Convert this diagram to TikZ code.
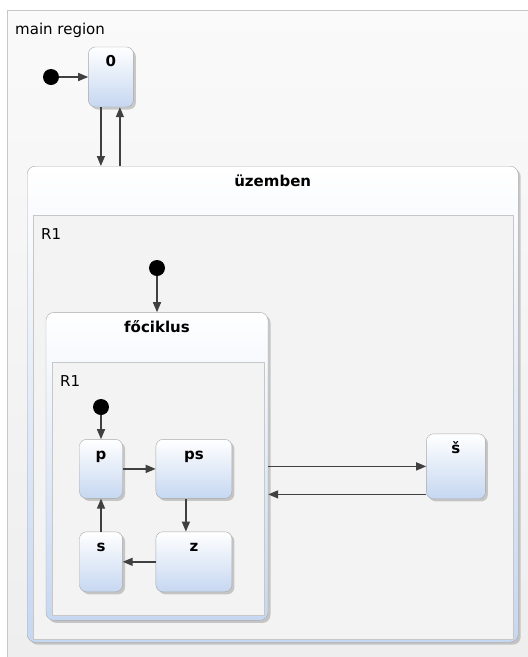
\documentclass[tikz,border=0pt]{standalone}
\usepackage{fontspec}
\setmainfont[Scale=1.5]{DejaVu Sans}
\usepackage{tikz}
\usetikzlibrary{positioning, arrows.meta, shadows}
\definecolor{stateblue}{HTML}{C6D7F1}
\definecolor{edgegray}{HTML}{A8A8A8}
\definecolor{linkgray}{HTML}{404040}
\definecolor{regionfill}{HTML}{F3F3F3}
\tikzset{
    simple/.style={rectangle, draw=edgegray, rounded corners=7pt, top color=white, bottom color=stateblue, inner sep=0pt, drop shadow={shadow xshift=2.5pt, shadow yshift=-2.5pt, fill=black!40}},
    composite/.style={rectangle, draw=edgegray, rounded corners=8pt, top color=white, bottom color=stateblue, inner sep=0pt, anchor=north west, drop shadow={shadow xshift=2.5pt, shadow yshift=-2.5pt, fill=black!40}},
    region/.style={rectangle, draw=black!22, fill=regionfill, inner sep=0pt, anchor=north west},
    init/.style={circle, fill=black, minimum size=16pt, inner sep=0pt},
    title/.style={anchor=base, yshift=-20pt, font=\bfseries},
    rlabel/.style={anchor=base west, inner sep=0pt, xshift=8pt, yshift=-24pt},
    arrow/.style={-{Triangle[length=10pt, width=8pt]}, draw=linkgray, line width=1.4pt}
}
\begin{document}
\begin{tikzpicture}[x=1pt, y=1pt]
        \useasboundingbox (0,0) rectangle (528,-657);
        % Main region
        \node[region, top color=black!2, bottom color=black!7, minimum width=600pt, minimum height=700pt,
              label={[rlabel]north west:main region}] (main) at (7,-10) {};
        \node[init] (init0) at (51,-77) {};
        \node[simple, right=29pt of init0, minimum width=45pt, minimum height=60pt,
              label={[title]north:0}] (zero) {};
        
        % uzemben
        \node[composite, minimum width=491pt, minimum height=476pt,
              label={[title]north:üzemben}] (uzemben) at (27,-166) {};
        \node[region, minimum width=480pt, minimum height=424pt,
              label={[rlabel]north west:R1}] (uzR1) at (33,-215) {};
        \node[init] (init1) at (157,-268) {};
        
        % fociklus
        \node[composite, anchor=north, below=36pt of init1, minimum width=222pt, minimum height=308pt,
              label={[title]north:főciklus}] (fociklus) {};
        \node[region, minimum width=212pt, minimum height=253pt,
              label={[rlabel]north west:R1}] (foR1) at (52,-362) {};
        \node[init] (init2) at (101,-407) {};
        \node[simple, below=24pt of init2, minimum width=43pt, minimum height=59pt,
              label={[title]north:p}] (p) {};
        \node[simple, right=33pt of p, minimum width=76pt, minimum height=59pt,
              label={[title]north:ps}] (ps) {};
        \node[simple, below=33pt of p, minimum width=43pt, minimum height=60pt,
              label={[title]north:s}] (s) {};
        \node[simple, below=33pt of ps, minimum width=76pt, minimum height=60pt,
              label={[title]north:z}] (z) {};
        
        % sv
        \node[simple, right=158pt of fociklus, minimum width=59pt, minimum height=65pt,
              label={[title]north:š}] (sv) {};
        
        % Transitions
        \draw[arrow] (init0) -- (zero);
        \draw[arrow] ([xshift=-10pt]zero.south) -- ([xshift=-10pt]zero.south |- uzemben.north);
        \draw[arrow] ([xshift=9pt]zero.south |- uzemben.north) -- ([xshift=9pt]zero.south);
        \draw[arrow] (init1) -- (init1 |- fociklus.north);
        \draw[arrow] (fociklus.east |- sv.west) -- (sv.west);
        \draw[arrow] ([yshift=-28pt]sv.west) -- ([yshift=-28pt]sv.west -| fociklus.east);
        \draw[arrow] (init2) -- (p);
        \draw[arrow] (p) -- (ps);
        \draw[arrow] ([xshift=-8pt]ps.south) -- ([xshift=-8pt]ps.south |- z.north);
        \draw[arrow] (z) -- (s);
        \draw[arrow] (s) -- (p);
    \end{tikzpicture}
\end{document}
